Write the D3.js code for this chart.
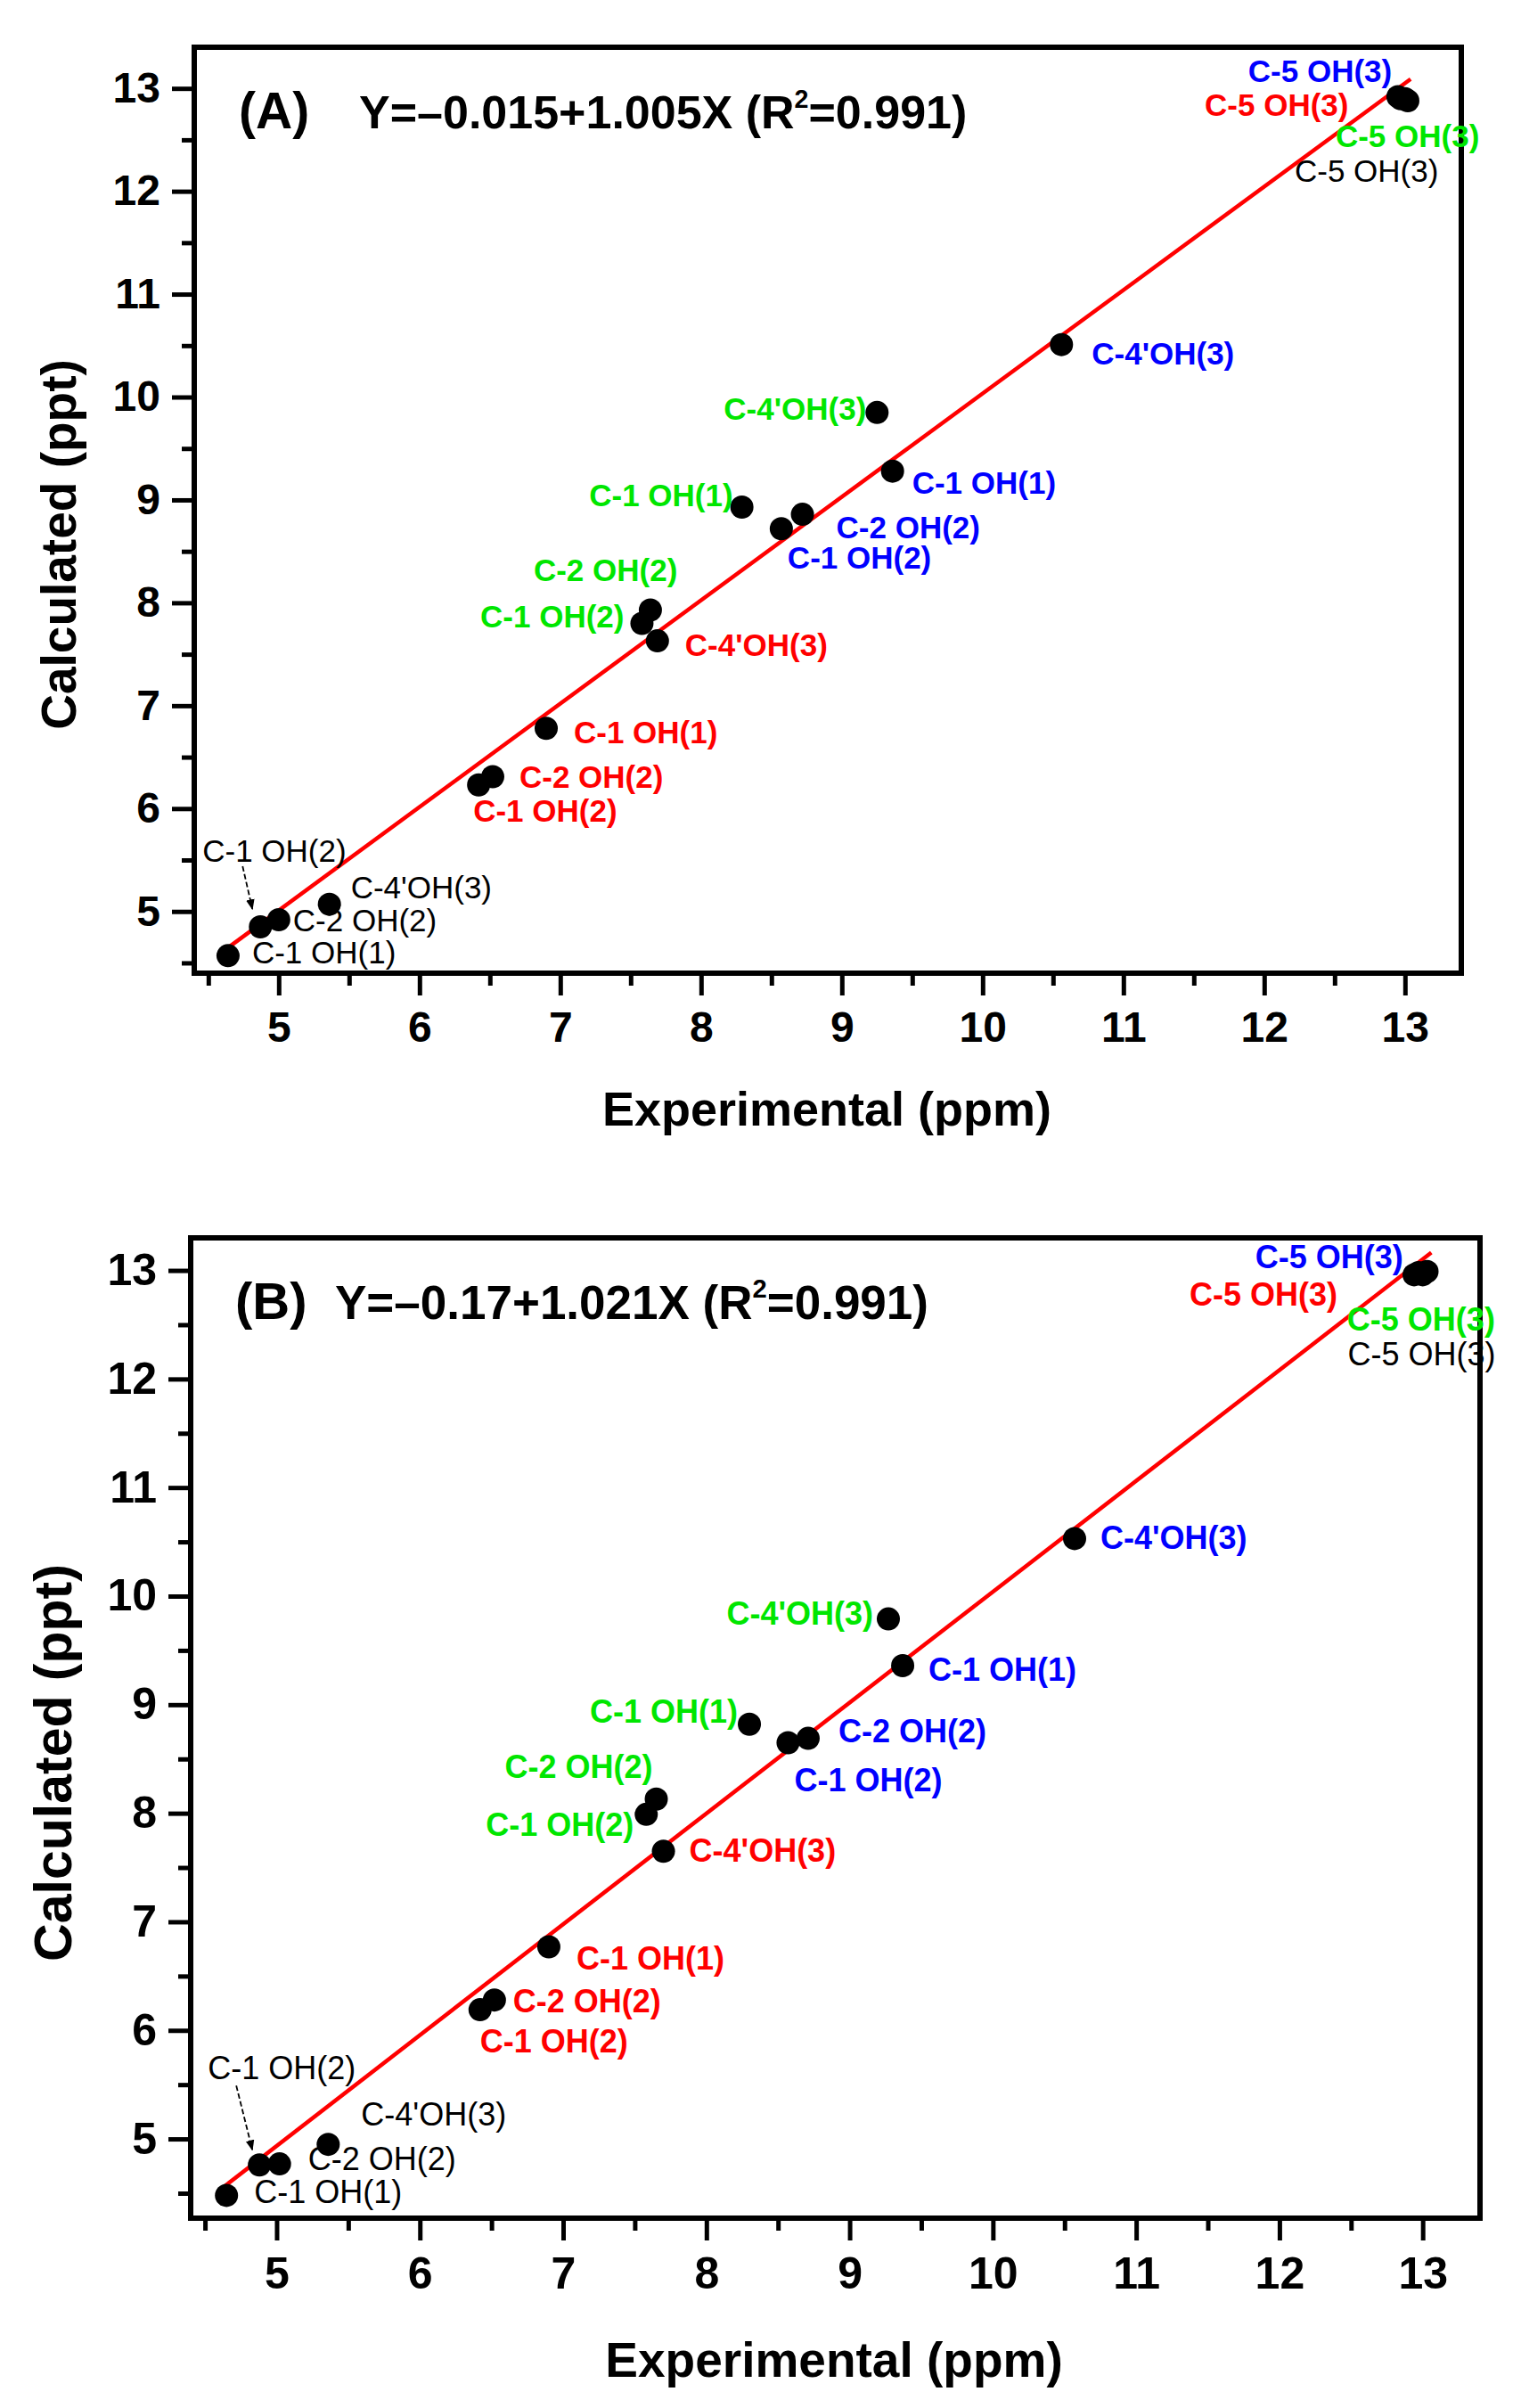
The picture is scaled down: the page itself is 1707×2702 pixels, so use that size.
<!DOCTYPE html>
<html><head><meta charset="utf-8">
<script src="https://cdn.jsdelivr.net/npm/d3@7"></script>
<style>
html,body{margin:0;padding:0;background:#fff;}
text{font-family:"Liberation Sans",Arial,sans-serif;}
</style></head>
<body><svg id="c" width="1707" height="2702"></svg>
<script>
// ---------- DATA ----------
const sites = ["C-1 OH(1)", "C-1 OH(2)", "C-2 OH(2)", "C-4'OH(3)", "C-5 OH(3)"];
const seriesNames = ["black", "red", "green", "blue"];
const majorTicks = [5, 6, 7, 8, 9, 10, 11, 12, 13];
const minorTicks = [4.5, 5.5, 6.5, 7.5, 8.5, 9.5, 10.5, 11.5, 12.5];

// Panel A (experimental x, calculated y) per series, in order of `sites`
const aBlackX = [4.64, 4.87, 5.00, 5.36, 13.02];
const aBlackY = [4.57, 4.85, 4.92, 5.07, 12.88];
const aRedX   = [6.90, 6.42, 6.52, 7.69, 12.97];
const aRedY   = [6.78, 6.23, 6.31, 7.63, 12.90];
const aGreenX = [8.29, 7.58, 7.64, 9.25, 12.95];
const aGreenY = [8.93, 7.80, 7.93, 9.85, 12.92];
const aBlueX  = [9.36, 8.57, 8.72, 10.56, 13.00];
const aBlueY  = [9.28, 8.72, 8.86, 10.51, 12.90];

// Panel B
const bBlackX = [4.65, 4.88, 5.02, 5.36, 13.03];
const bBlackY = [4.48, 4.76, 4.77, 4.95, 12.99];
const bRedX   = [6.90, 6.42, 6.52, 7.70, 12.94];
const bRedY   = [6.77, 6.19, 6.28, 7.65, 12.96];
const bGreenX = [8.30, 7.58, 7.65, 9.27, 12.97];
const bGreenY = [8.82, 7.99, 8.13, 9.79, 12.98];
const bBlueX  = [9.37, 8.57, 8.71, 10.57, 13.00];
const bBlueY  = [9.36, 8.65, 8.69, 10.53, 12.96];

// Linear fits: intercept, slope, x-range of the drawn line
const fitA = [-0.015, 1.005]; const fitARange = [4.64, 13.04];
const fitB = [-0.17, 1.021];  const fitBRange = [4.64, 13.06];
const eqA = {tag: "(A)", pre: "Y=\u20130.015+1.005X (R", post: "=0.991)"};
const eqB = {tag: "(B)", pre: "Y=\u20130.17+1.021X (R", post: "=0.991)"};

const xTitle = "Experimental (ppm)";
const yTitle = "Calculated (ppt)";

// ---------- STYLE / LAYOUT ----------
const colors = {black: "#000000", red: "#ff0000", green: "#00e600", blue: "#0000ff"};
// label offsets from the point in px: [dx, dy, anchor]
const labOffA = {
  black: [[27, 9, "start"], [-65, -73, "start"], [16, 13, "start"], [24, -7, "start"], [-127, 91, "start"]],
  red:   [[31, 17, "start"], [-6, 41, "start"], [30, 12, "start"], [31, 17, "start"], [-220, 19, "start"]],
  green: [[-10, -1, "end"], [-20, 5, "end"], [-131, -32, "start"], [-12, 8, "end"], [-70, 57, "start"]],
  blue:  [[22, 25, "start"], [7, 45, "start"], [38, 27, "start"], [34, 22, "start"], [-176, -19, "start"]]
};
const labOffB = {
  black: [[31, 9, "start"], [-58, -96, "start"], [32, 7, "start"], [37, -21, "start"], [-89, 105, "start"]],
  red:   [[31, 26, "start"], [0, 48, "start"], [21, 14, "start"], [29, 12, "start"], [-252, 35, "start"]],
  green: [[-13, -2, "end"], [-14, 24, "end"], [-170, -24, "start"], [-17, 6, "end"], [-80, 65, "start"]],
  blue:  [[29, 17, "start"], [7, 55, "start"], [34, 4, "start"], [29, 12, "start"], [-188, -7, "start"]]
};

const panels = [
  {left: 218, right: 1640, top: 53, bottom: 1092, xd: [4.4, 13.4], yd: [4.4, 13.4],
   data: {black: [aBlackX, aBlackY], red: [aRedX, aRedY], green: [aGreenX, aGreenY], blue: [aBlueX, aBlueY]},
   fit: fitA, fitRange: fitARange, eq: eqA, labSize: 35, labOff: labOffA,
   arrow: [[-20, -68], [-9, -20]],
   eqTagX: 268, eqX: 403, eqBase: 144, eqSize: 52, tagSize: 57,
   xTitleX: 928, xTitleY: 1263, xTitleSize: 54, yTitleX: 85, yTitleY: 611, yTitleSize: 55, tickSize: 48},
  {left: 214, right: 1661, top: 1389, bottom: 2489, xd: [4.4, 13.4], yd: [4.27, 13.3],
   data: {black: [bBlackX, bBlackY], red: [bRedX, bRedY], green: [bGreenX, bGreenY], blue: [bBlueX, bBlueY]},
   fit: fitB, fitRange: fitBRange, eq: eqB, labSize: 36, labOff: labOffB,
   arrow: [[-26, -89], [-8, -17]],
   eqTagX: 264, eqX: 376, eqBase: 1480, eqSize: 53, tagSize: 58,
   xTitleX: 936, xTitleY: 2667, xTitleSize: 55, yTitleX: 80, yTitleY: 1978, yTitleSize: 59, tickSize: 50}
];

const svg = d3.select("#c");
const defs = svg.append("defs");
defs.append("marker").attr("id", "ah").attr("viewBox", "0 0 10 10").attr("refX", 9).attr("refY", 5)
  .attr("markerWidth", 12).attr("markerHeight", 12).attr("markerUnits", "userSpaceOnUse").attr("orient", "auto")
  .append("path").attr("d", "M0,1 L10,5 L0,9 Z").attr("fill", "#000");

panels.forEach(p => {
  const x = d3.scaleLinear().domain(p.xd).range([p.left, p.right]);
  const y = d3.scaleLinear().domain(p.yd).range([p.bottom, p.top]);
  const g = svg.append("g");

  // axes: major + minor ticks
  const axB = g.append("g").attr("transform", `translate(0,${p.bottom})`)
    .call(d3.axisBottom(x).tickValues(majorTicks).tickSize(25).tickPadding(18).tickFormat(d3.format("d")));
  const axBm = g.append("g").attr("transform", `translate(0,${p.bottom})`)
    .call(d3.axisBottom(x).tickValues(minorTicks).tickSize(14).tickFormat(""));
  const axL = g.append("g").attr("transform", `translate(${p.left},0)`)
    .call(d3.axisLeft(y).tickValues(majorTicks).tickSize(25).tickPadding(13).tickFormat(d3.format("d")));
  const axLm = g.append("g").attr("transform", `translate(${p.left},0)`)
    .call(d3.axisLeft(y).tickValues(minorTicks).tickSize(14).tickFormat(""));
  [axB, axBm, axL, axLm].forEach(a => {
    a.select(".domain").remove();
    a.selectAll("line").attr("stroke", "#000").attr("stroke-width", 5);
    a.selectAll("text").attr("font-size", p.tickSize).attr("font-weight", "bold")
      .attr("font-family", "'Liberation Sans',Arial,sans-serif").attr("fill", "#000");
  });

  // frame
  g.append("rect").attr("x", p.left).attr("y", p.top).attr("width", p.right - p.left)
    .attr("height", p.bottom - p.top).attr("fill", "none").attr("stroke", "#000").attr("stroke-width", 6);

  // fit line
  const line = d3.line().x(d => x(d)).y(d => y(p.fit[0] + p.fit[1] * d));
  g.append("path").attr("d", line(p.fitRange)).attr("stroke", "#ff0000").attr("stroke-width", 4.5).attr("fill", "none");

  // points
  seriesNames.forEach(s => {
    const [xs, ys] = p.data[s];
    const pts = xs.map((v, i) => ({x: v, y: ys[i], i}));
    g.append("g").selectAll("circle").data(pts).join("circle")
      .attr("cx", d => x(d.x)).attr("cy", d => y(d.y)).attr("r", 13).attr("fill", "#000");
  });

  // labels
  seriesNames.forEach(s => {
    const [xs, ys] = p.data[s];
    const pts = xs.map((v, i) => ({x: v, y: ys[i], i}));
    g.append("g").selectAll("text").data(pts).join("text")
      .attr("x", d => x(d.x) + p.labOff[s][d.i][0])
      .attr("y", d => y(d.y) + p.labOff[s][d.i][1])
      .attr("text-anchor", d => p.labOff[s][d.i][2])
      .attr("font-size", p.labSize)
      .attr("font-weight", s === "black" ? "normal" : "bold")
      .attr("fill", colors[s])
      .text(d => sites[d.i]);
  });

  // arrow for black C-1 OH(2)
  const ax0 = x(p.data.black[0][1]), ay0 = y(p.data.black[1][1]);
  g.append("line").attr("x1", ax0 + p.arrow[0][0]).attr("y1", ay0 + p.arrow[0][1])
    .attr("x2", ax0 + p.arrow[1][0]).attr("y2", ay0 + p.arrow[1][1])
    .attr("stroke", "#000").attr("stroke-width", 1.8).attr("stroke-dasharray", "6,3")
    .attr("marker-end", "url(#ah)");

  // equation
  g.append("text").attr("x", p.eqTagX).attr("y", p.eqBase).attr("font-size", p.tagSize)
    .attr("font-weight", "bold").text(p.eq.tag);
  const eq = g.append("text").attr("x", p.eqX).attr("y", p.eqBase).attr("font-size", p.eqSize).attr("font-weight", "bold");
  eq.append("tspan").text(p.eq.pre);
  eq.append("tspan").attr("font-size", p.eqSize * 0.55).attr("dy", -p.eqSize * 0.45).text("2");
  eq.append("tspan").attr("dy", p.eqSize * 0.45).text(p.eq.post);

  // axis titles
  g.append("text").attr("x", p.xTitleX).attr("y", p.xTitleY).attr("text-anchor", "middle")
    .attr("font-size", p.xTitleSize).attr("font-weight", "bold").text(xTitle);
  g.append("text").attr("transform", `translate(${p.yTitleX},${p.yTitleY}) rotate(-90)`)
    .attr("text-anchor", "middle").attr("font-size", p.yTitleSize).attr("font-weight", "bold").text(yTitle);
});
</script>
</body></html>
